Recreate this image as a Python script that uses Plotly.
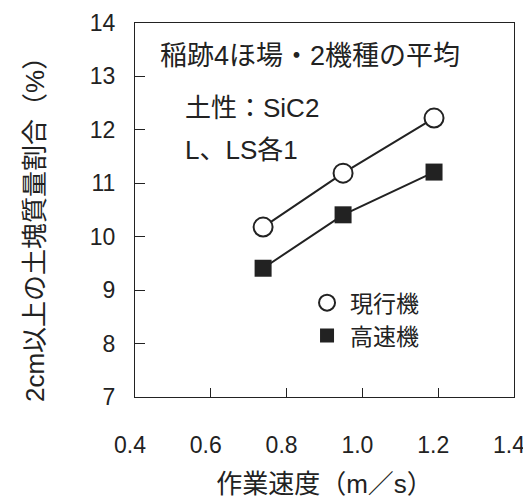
import plotly.graph_objects as go

speed_current = [0.738, 0.949, 1.189]
ratio_current = [10.18, 11.19, 12.22]
speed_fast = [0.738, 0.949, 1.189]
ratio_fast = [9.41, 10.41, 11.21]

name_current = "現行機"
name_fast = "高速機"
x_title = "作業速度（m／s）"
y_title = "2cm以上の土塊質量割合（%）"
note_title = "稲跡4ほ場・2機種の平均"
note_soil_1 = "土性：SiC2"
note_soil_2 = "L、LS各1"
x_ticks = [0.4, 0.6, 0.8, 1.0, 1.2, 1.4]
y_ticks = [7, 8, 9, 10, 11, 12, 13, 14]

FONT = "Liberation Sans, Arial, Noto Sans CJK JP, sans-serif"
INK = "#222222"

fig = go.Figure()
fig.add_trace(go.Scatter(
    x=speed_current, y=ratio_current, mode="lines+markers", name=name_current,
    line=dict(color=INK, width=2),
    marker=dict(symbol="circle", size=19, color="white", line=dict(color=INK, width=2)),
    showlegend=False,
))
fig.add_trace(go.Scatter(
    x=speed_fast, y=ratio_fast, mode="lines+markers", name=name_fast,
    line=dict(color=INK, width=2),
    marker=dict(symbol="square", size=17, color=INK, line=dict(color=INK, width=0)),
    showlegend=False,
))
# legend-only entries (no data) so the legend shows markers without lines
fig.add_trace(go.Scatter(
    x=[None], y=[None], mode="markers", name=name_current,
    marker=dict(symbol="circle", size=16, color="white", line=dict(color=INK, width=2)),
))
fig.add_trace(go.Scatter(
    x=[None], y=[None], mode="markers", name=name_fast,
    marker=dict(symbol="square", size=14, color=INK),
))

fig.add_annotation(text=note_title, xref="paper", yref="paper", x=0.061, y=0.912,
                   xanchor="left", yanchor="middle", showarrow=False,
                   font=dict(size=27, color=INK, family=FONT))
fig.add_annotation(text=note_soil_1, xref="paper", yref="paper", x=0.127, y=0.773,
                   xanchor="left", yanchor="middle", align="left", showarrow=False,
                   font=dict(size=26, color=INK, family=FONT))
fig.add_annotation(text=note_soil_2, xref="paper", yref="paper", x=0.127, y=0.660,
                   xanchor="left", yanchor="middle", align="left", showarrow=False,
                   font=dict(size=26, color=INK, family=FONT))
# y-axis title placed as rotated text left of the tick labels
fig.add_annotation(text=y_title, xref="paper", yref="paper", x=-0.264, y=0.465,
                   xanchor="center", yanchor="middle", textangle=-90, showarrow=False,
                   font=dict(size=26, color=INK, family=FONT))

# page has an 8px body margin, so the figure is 523x496 placed at (8, 8)
fig.update_layout(
    width=523, height=496,
    margin=dict(l=127, r=17, t=15, b=107),
    paper_bgcolor="white", plot_bgcolor="white",
    font=dict(family=FONT, size=23, color=INK),
    legend=dict(x=0.446, y=0.208, xanchor="left", yanchor="middle",
                bgcolor="rgba(0,0,0,0)", font=dict(size=23, color=INK, family=FONT),
                itemsizing="trace", tracegroupgap=0, itemwidth=36),
    xaxis=dict(
        range=[0.4, 1.4], tickvals=x_ticks, ticktext=[f"{v:.1f}" for v in x_ticks],
        ticks="inside", ticklen=9, tickwidth=1, tickcolor=INK,
        showline=True, linecolor=INK, linewidth=1, mirror=True,
        showgrid=False, zeroline=False, ticklabelstandoff=27, ticklabelshift=-5,
        automargin=False,
        title=dict(text=x_title, standoff=18, font=dict(size=26, color=INK, family=FONT)),
        tickfont=dict(size=23, color=INK, family=FONT),
    ),
    yaxis=dict(
        range=[7, 14], tickvals=y_ticks,
        ticks="inside", ticklen=10, tickwidth=1, tickcolor=INK,
        showline=True, linecolor=INK, linewidth=1, mirror=True,
        showgrid=False, zeroline=False, ticklabelstandoff=14, automargin=False,
        tickfont=dict(size=23, color=INK, family=FONT),
    ),
)

fig.write_html("out.html")
